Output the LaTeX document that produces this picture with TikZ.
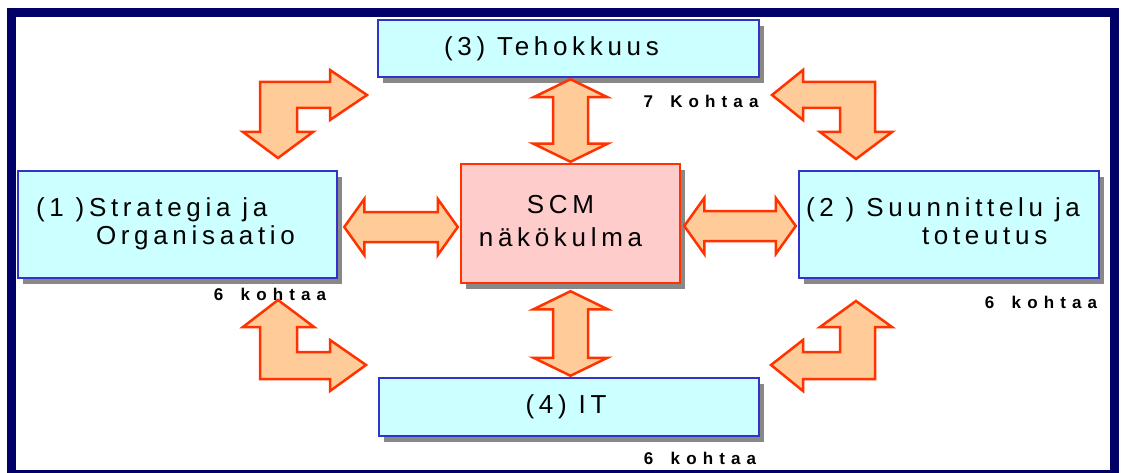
\documentclass[tikz,border=0pt]{standalone}
\usepackage{fontspec}
\setmainfont{Liberation Sans}[LetterSpace=18, WordSpace=1.0]
\newfontfamily\smallfont{Liberation Sans}[LetterSpace=36, WordSpace=1.6]
\usetikzlibrary{calc,shadows}
\definecolor{boxfill}{HTML}{CCFFFF}
\definecolor{boxline}{HTML}{3333CC}
\definecolor{scmfill}{HTML}{FFCCCC}
\definecolor{redline}{HTML}{FF3300}
\definecolor{arrowfill}{HTML}{FFCC99}
\definecolor{framecol}{HTML}{000066}
\definecolor{shadowgray}{HTML}{888888}
\tikzset{
 boxstyle/.style={draw=boxline, fill=boxfill, line width=2.5pt, inner sep=0pt,
   drop shadow={shadow xshift=5pt, shadow yshift=-6pt, fill=shadowgray, opacity=1},
   font=\fontsize{26}{28}\selectfont},
 scmstyle/.style={boxstyle, draw=redline, fill=scmfill},
 blockarrow/.style={draw=redline, fill=arrowfill, line width=2.5pt, line join=miter},
 countlabel/.style={font=\smallfont\bfseries\fontsize{17}{17}\selectfont, inner sep=0pt}
}
\newcommand{\dblH}[2]{\path[blockarrow] let \p1=(#1), \p2=(#2) in
  (\x1,\y1) -- (\x1+20pt,\y1+28pt) -- (\x1+20pt,\y1+15pt) -- (\x2-20pt,\y1+15pt) -- (\x2-20pt,\y1+28pt)
  -- (\x2,\y1) -- (\x2-20pt,\y1-28pt) -- (\x2-20pt,\y1-15pt) -- (\x1+20pt,\y1-15pt) -- (\x1+20pt,\y1-28pt) -- cycle;}
\newcommand{\dblV}[2]{\path[blockarrow] let \p1=(#1), \p2=(#2) in
  (\x1,\y1) -- (\x1+37pt,\y1-18pt) -- (\x1+17.5pt,\y1-18pt) -- (\x1+17.5pt,\y2+18pt) -- (\x1+37pt,\y2+18pt)
  -- (\x1,\y2) -- (\x1-37pt,\y2+18pt) -- (\x1-17.5pt,\y2+18pt) -- (\x1-17.5pt,\y1-18pt) -- (\x1-37pt,\y1-18pt) -- cycle;}
\begin{document}
\begin{tikzpicture}[x=1pt,y=-1pt]
\useasboundingbox (0,0) rectangle (1121,473);
\fill[white] (0,0) rectangle (1121,473);
\draw[framecol, line width=9pt] (11.5,13) rectangle (1114.5,474.5);

% boxes
\node[boxstyle, minimum width=381pt, minimum height=57pt] (t) at (568.5,48.5) {\hspace*{-34pt}(3) Tehokkuus};
\node[boxstyle, minimum width=319pt, minimum height=107pt] (l) at (177.5,224.5)
  {\makebox[283pt][l]{\raisebox{-4pt}{\begin{tabular}{@{}l@{}}(1 )Strategia ja\\\hspace*{60pt}Organisaatio\end{tabular}}}};
\node[scmstyle, minimum width=219pt, minimum height=119pt] (c) at (570.5,223.5)
  {\hspace*{-20pt}\raisebox{-5pt}{\renewcommand\arraystretch{1.15}\begin{tabular}{@{}c@{}}SCM\\näkökulma\end{tabular}}};
\node[boxstyle, minimum width=300pt, minimum height=107pt] (r) at (949,224.5)
  {\makebox[286pt][l]{\raisebox{-4pt}{\begin{tabular}{@{}l@{}}(2 ) Suunnittelu ja\\\hspace*{116pt}toteutus\end{tabular}}}};
\node[boxstyle, minimum width=380pt, minimum height=58pt] (b) at (569,407) {\hspace*{-6pt}(4) IT};

% count labels
\node[countlabel] (k3) at (701,101) {7 Kohtaa};
\node[countlabel] (k1) at (270,294) {6 kohtaa};
\node[countlabel] (k2) at (1041,302) {6 kohtaa};
\node[countlabel] (k4) at (700,458) {6 kohtaa};

% straight double arrows
\dblH{$(l.east)+(6,2.5)$}{$(c.west)+(-2,2.5)$}
\dblH{$(c.east)+(3,2.5)$}{$(r.west)+(-2,2.5)$}
\dblV{$(t.south)+(2,1)$}{$(c.north)+(0,-1)$}
\dblV{$(c.south)+(0,7)$}{$(b.north)+(0,-1)$}

% bent arrows
\draw[blockarrow] (260,82) -- (330,82) -- (330,70) -- (367,95) -- (330,120) -- (330,108) -- (297,108)
  -- (297,132) -- (313,132) -- (278,158) -- (243,132) -- (260,132) -- cycle;
\draw[blockarrow] (875,82) -- (803,82) -- (803,70) -- (772,95) -- (803,120) -- (803,108) -- (840,108)
  -- (840,132) -- (820,132) -- (856,159) -- (892,132) -- (875,132) -- cycle;
\draw[blockarrow] (260,379) -- (330,379) -- (330,391) -- (366,365) -- (330,340) -- (330,352) -- (297,352)
  -- (297,327) -- (314,327) -- (278,300) -- (243,327) -- (260,327) -- cycle;
\draw[blockarrow] (875,379) -- (803,379) -- (803,391) -- (771,365) -- (803,340) -- (803,352) -- (840,352)
  -- (840,327) -- (820,327) -- (856,301) -- (892,327) -- (875,327) -- cycle;
\end{tikzpicture}
\end{document}
